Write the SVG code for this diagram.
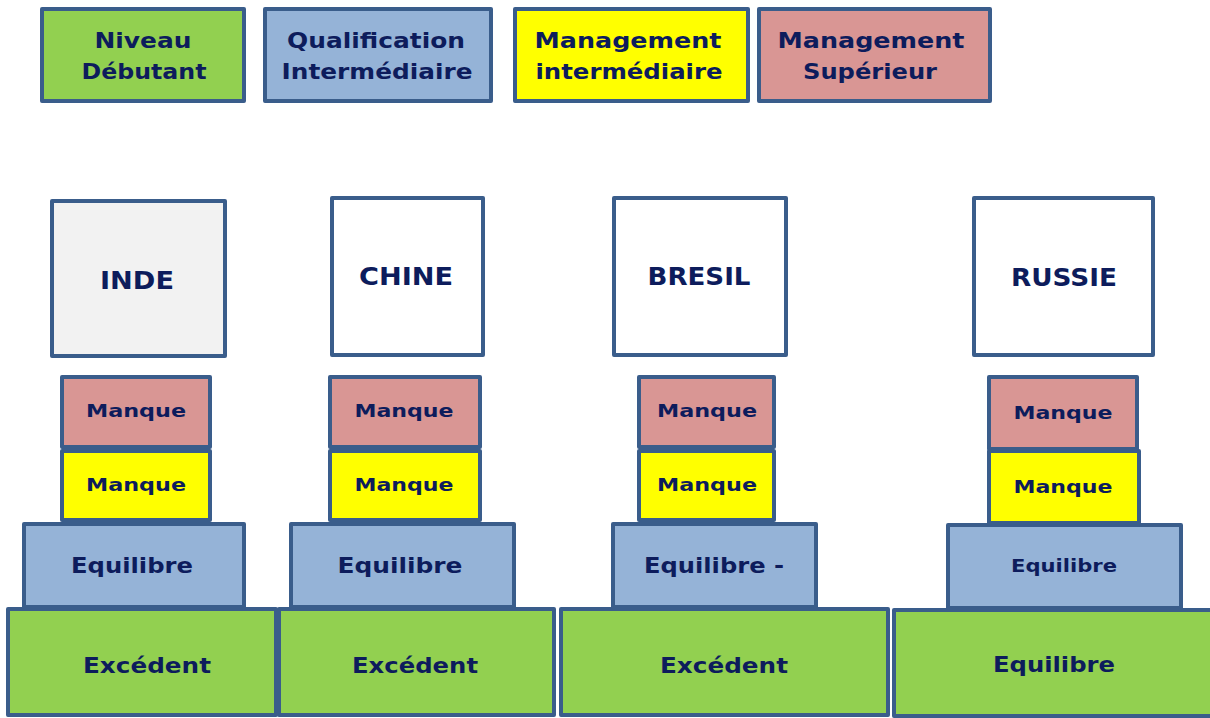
<svg xmlns="http://www.w3.org/2000/svg" width="1210" height="718" viewBox="0 0 1210 718">
  <style>
    .box { stroke: #3A5D8B; stroke-width: 4; stroke-linejoin: round; }
    .green { fill: #92D050; }
    .blue { fill: #95B3D7; }
    .yellow { fill: #FFFF00; }
    .pink { fill: #D99694; }
    .white { fill: #FFFFFF; }
    .grey { fill: #F2F2F2; }
    text { font-family: "DejaVu Sans", Verdana, sans-serif; font-weight: bold; fill: #0D1C5C; text-anchor: middle; }
    .leg { font-size: 22px; }
    .country { font-size: 25px; }
    .small { font-size: 18px; }
    .mid { font-size: 21px; }
    .mid-s { font-size: 18px; }
    .big { font-size: 22px; }
  </style>

  <!-- legend -->
  <g id="legend-debutant">
    <rect class="box green" x="42" y="9" width="202" height="92"/>
    <text class="leg" x="143" y="48" textLength="97" lengthAdjust="spacingAndGlyphs">Niveau</text>
    <text class="leg" x="144" y="79" textLength="125" lengthAdjust="spacingAndGlyphs">Débutant</text>
  </g>
  <g id="legend-qualification">
    <rect class="box blue" x="265" y="9" width="226" height="92"/>
    <text class="leg" x="376" y="48" textLength="178" lengthAdjust="spacingAndGlyphs">Qualification</text>
    <text class="leg" x="377" y="79" textLength="191" lengthAdjust="spacingAndGlyphs">Intermédiaire</text>
  </g>
  <g id="legend-management-inter">
    <rect class="box yellow" x="515" y="9" width="233" height="92"/>
    <text class="leg" x="628" y="48" textLength="187" lengthAdjust="spacingAndGlyphs">Management</text>
    <text class="leg" x="629" y="79" textLength="187" lengthAdjust="spacingAndGlyphs">intermédiaire</text>
  </g>
  <g id="legend-management-sup">
    <rect class="box pink" x="759" y="9" width="231" height="92"/>
    <text class="leg" x="871" y="48" textLength="187" lengthAdjust="spacingAndGlyphs">Management</text>
    <text class="leg" x="870" y="79" textLength="134" lengthAdjust="spacingAndGlyphs">Supérieur</text>
  </g>

  <!-- India -->
  <g id="inde">
    <rect class="box grey" x="52" y="201" width="173" height="155"/>
    <text class="country" x="137" y="289" textLength="74" lengthAdjust="spacingAndGlyphs">INDE</text>
  </g>
  <g id="inde-excedent">
    <rect class="box green" x="8" y="609" width="268" height="106"/>
    <text class="big" x="147" y="673" textLength="128" lengthAdjust="spacingAndGlyphs">Excédent</text>
  </g>
  <g id="inde-equilibre">
    <rect class="box blue" x="24" y="524" width="220" height="83"/>
    <text class="mid" x="132" y="573" textLength="122" lengthAdjust="spacingAndGlyphs">Equilibre</text>
  </g>
  <g id="inde-yellow">
    <rect class="box yellow" x="62" y="451" width="148" height="69"/>
    <text class="small" x="136" y="491" textLength="100" lengthAdjust="spacingAndGlyphs">Manque</text>
  </g>
  <g id="inde-pink">
    <rect class="box pink" x="62" y="377" width="148" height="70"/>
    <text class="small" x="136" y="417" textLength="100" lengthAdjust="spacingAndGlyphs">Manque</text>
  </g>

  <!-- China -->
  <g id="chine">
    <rect class="box white" x="332" y="198" width="151" height="157"/>
    <text class="country" x="406" y="285" textLength="94" lengthAdjust="spacingAndGlyphs">CHINE</text>
  </g>
  <g id="chine-excedent">
    <rect class="box green" x="279" y="609" width="275" height="106"/>
    <text class="big" x="415" y="673" textLength="126" lengthAdjust="spacingAndGlyphs">Excédent</text>
  </g>
  <g id="chine-equilibre">
    <rect class="box blue" x="291" y="524" width="223" height="83"/>
    <text class="mid" x="400" y="573" textLength="125" lengthAdjust="spacingAndGlyphs">Equilibre</text>
  </g>
  <g id="chine-yellow">
    <rect class="box yellow" x="330" y="451" width="150" height="69"/>
    <text class="small" x="404" y="491" textLength="99" lengthAdjust="spacingAndGlyphs">Manque</text>
  </g>
  <g id="chine-pink">
    <rect class="box pink" x="330" y="377" width="150" height="70"/>
    <text class="small" x="404" y="417" textLength="99" lengthAdjust="spacingAndGlyphs">Manque</text>
  </g>

  <!-- Brazil -->
  <g id="bresil">
    <rect class="box white" x="614" y="198" width="172" height="157"/>
    <text class="country" x="699" y="285" textLength="103" lengthAdjust="spacingAndGlyphs">BRESIL</text>
  </g>
  <g id="bresil-excedent">
    <rect class="box green" x="561" y="609" width="327" height="106"/>
    <text class="big" x="724" y="673" textLength="128" lengthAdjust="spacingAndGlyphs">Excédent</text>
  </g>
  <g id="bresil-equilibre">
    <rect class="box blue" x="613" y="524" width="203" height="83"/>
    <text class="mid" x="714" y="573" textLength="140" lengthAdjust="spacingAndGlyphs">Equilibre -</text>
  </g>
  <g id="bresil-yellow">
    <rect class="box yellow" x="639" y="451" width="135" height="69"/>
    <text class="small" x="707" y="491" textLength="100" lengthAdjust="spacingAndGlyphs">Manque</text>
  </g>
  <g id="bresil-pink">
    <rect class="box pink" x="639" y="377" width="135" height="70"/>
    <text class="small" x="707" y="417" textLength="100" lengthAdjust="spacingAndGlyphs">Manque</text>
  </g>

  <!-- Russia -->
  <g id="russie">
    <rect class="box white" x="974" y="198" width="179" height="157"/>
    <text class="country" x="1064" y="286" textLength="106" lengthAdjust="spacingAndGlyphs">RUSSIE</text>
  </g>
  <g id="russie-equilibre-base">
    <rect class="box green" x="894" y="610" width="320" height="106"/>
    <text class="big" x="1054" y="672" textLength="122" lengthAdjust="spacingAndGlyphs">Equilibre</text>
  </g>
  <g id="russie-equilibre">
    <rect class="box blue" x="948" y="525" width="233" height="83"/>
    <text class="mid-s" x="1064" y="572" textLength="106" lengthAdjust="spacingAndGlyphs">Equilibre</text>
  </g>
  <g id="russie-yellow">
    <rect class="box yellow" x="989" y="451" width="150" height="72"/>
    <text class="small" x="1063" y="493" textLength="99" lengthAdjust="spacingAndGlyphs">Manque</text>
  </g>
  <g id="russie-pink">
    <rect class="box pink" x="989" y="377" width="148" height="72"/>
    <text class="small" x="1063" y="419" textLength="99" lengthAdjust="spacingAndGlyphs">Manque</text>
  </g>

  <g id="connectors"/>
</svg>
